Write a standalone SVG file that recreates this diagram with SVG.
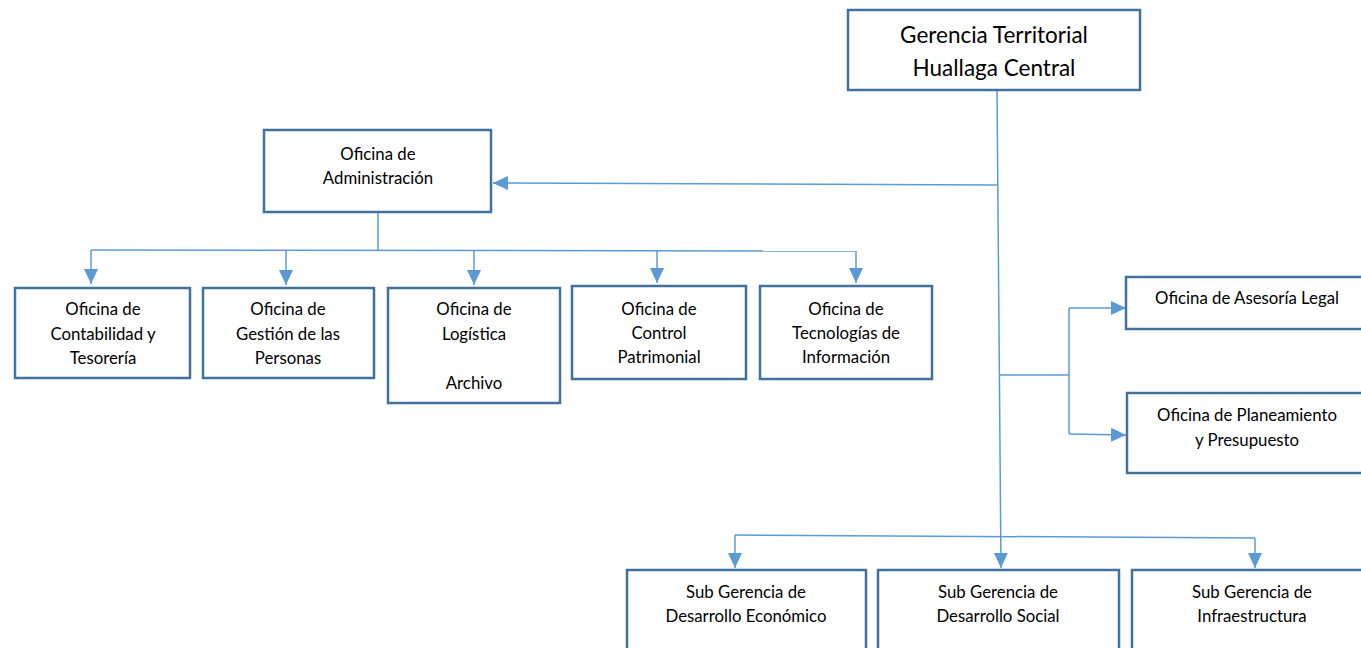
<svg xmlns="http://www.w3.org/2000/svg" width="1361" height="648" viewBox="0 0 1361 648">
<style>
.box{fill:#fff;stroke:#41719C;stroke-width:2.5}
.t{font-family:Lato,"Open Sans",sans-serif;font-size:16.8px;fill:#000;text-anchor:middle}
.tl{font-family:Lato,"Open Sans",sans-serif;font-size:22.5px;fill:#000;text-anchor:middle}
.c{fill:none;stroke:#5B9BD5;stroke-width:1.5}
</style>
<defs>
<marker id="ah" viewBox="0 0 15 14" refX="15" refY="7" markerWidth="15" markerHeight="14" markerUnits="userSpaceOnUse" orient="auto">
<path d="M0,0 L15,7 L0,14 Z" fill="#5B9BD5"/>
</marker>
</defs>
<g id="connectors">
<path class="c" d="M997,90 L1001,568" marker-end="url(#ah)"/>
<path class="c" d="M997,185 L493,183" marker-end="url(#ah)"/>
<path class="c" d="M378,212 L378,250"/>
<path class="c" d="M91,250 L856,251"/>
<path class="c" d="M91,250 L91,284" marker-end="url(#ah)"/>
<path class="c" d="M286,250 L286,285" marker-end="url(#ah)"/>
<path class="c" d="M474,250 L474,285" marker-end="url(#ah)"/>
<path class="c" d="M657,251 L657,283" marker-end="url(#ah)"/>
<path class="c" d="M856,251 L856,283" marker-end="url(#ah)"/>
<path class="c" d="M1000,375 L1069,375"/>
<path class="c" d="M1069,308 L1069,434"/>
<path class="c" d="M1069,308 L1126,308" marker-end="url(#ah)"/>
<path class="c" d="M1069,434 L1126,435" marker-end="url(#ah)"/>
<path class="c" d="M735,535 L1255,538"/>
<path class="c" d="M735,535 L735,568" marker-end="url(#ah)"/>
<path class="c" d="M1255,538 L1255,568" marker-end="url(#ah)"/>
</g>
<g id="gerencia">
<rect class="box" x="848" y="10" width="292" height="80"/>
<text class="tl" x="994" y="43">Gerencia Territorial</text>
<text class="tl" x="994" y="76">Huallaga Central</text>
</g>
<g id="administracion">
<rect class="box" x="264" y="130" width="227" height="82"/>
<text class="t" x="378" y="160">Oficina de</text>
<text class="t" x="378" y="184">Administración</text>
</g>
<g id="contabilidad">
<rect class="box" x="15" y="288" width="175" height="90"/>
<text class="t" x="103" y="315">Oficina de</text>
<text class="t" x="103" y="340">Contabilidad y</text>
<text class="t" x="103" y="364">Tesorería</text>
</g>
<g id="personas">
<rect class="box" x="203" y="288" width="171" height="90"/>
<text class="t" x="288" y="315">Oficina de</text>
<text class="t" x="288" y="340">Gestión de las</text>
<text class="t" x="288" y="364">Personas</text>
</g>
<g id="logistica">
<rect class="box" x="388" y="288" width="172" height="115"/>
<text class="t" x="474" y="315">Oficina de</text>
<text class="t" x="474" y="340">Logística</text>
<text class="t" x="474" y="389">Archivo</text>
</g>
<g id="patrimonial">
<rect class="box" x="572" y="286" width="174" height="93"/>
<text class="t" x="659" y="315">Oficina de</text>
<text class="t" x="659" y="339">Control</text>
<text class="t" x="659" y="363">Patrimonial</text>
</g>
<g id="tecnologias">
<rect class="box" x="760" y="286" width="172" height="93"/>
<text class="t" x="846" y="315">Oficina de</text>
<text class="t" x="846" y="339">Tecnologías de</text>
<text class="t" x="846" y="363">Información</text>
</g>
<g id="asesoria">
<rect class="box" x="1126" y="277" width="240" height="52"/>
<text class="t" x="1247" y="304">Oficina de Asesoría Legal</text>
</g>
<g id="planeamiento">
<rect class="box" x="1127" y="393" width="240" height="80"/>
<text class="t" x="1247" y="421">Oficina de Planeamiento</text>
<text class="t" x="1247" y="446">y Presupuesto</text>
</g>
<g id="economico">
<rect class="box" x="627" y="570" width="239" height="90"/>
<text class="t" x="746" y="598">Sub Gerencia de</text>
<text class="t" x="746" y="622">Desarrollo Económico</text>
</g>
<g id="social">
<rect class="box" x="878" y="570" width="241" height="90"/>
<text class="t" x="998" y="598">Sub Gerencia de</text>
<text class="t" x="998" y="622">Desarrollo Social</text>
</g>
<g id="infraestructura">
<rect class="box" x="1132" y="570" width="240" height="90"/>
<text class="t" x="1252" y="598">Sub Gerencia de</text>
<text class="t" x="1252" y="622">Infraestructura</text>
</g>
</svg>
